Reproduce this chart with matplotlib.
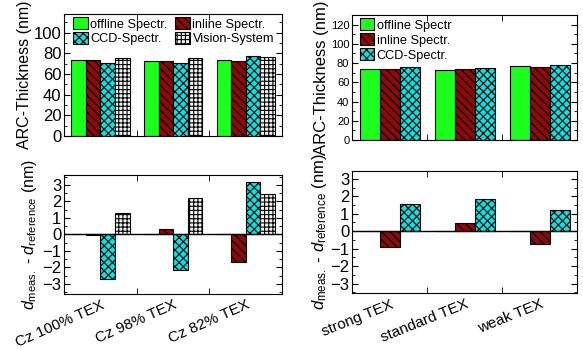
import matplotlib
matplotlib.use("Agg")
import matplotlib.pyplot as plt
import numpy as np
from matplotlib.ticker import MultipleLocator, FixedLocator

plt.rcParams["font.family"] = ["Liberation Sans", "DejaVu Sans"]
plt.rcParams["mathtext.fontset"] = "custom"
plt.rcParams["mathtext.rm"] = "Liberation Sans"
plt.rcParams["mathtext.it"] = "Liberation Sans:italic"
plt.rcParams["hatch.linewidth"] = 0.8

# left panel: Cz wafers, four measurement systems
cz_groups = ["Cz 100% TEX", "Cz 98% TEX", "Cz 82% TEX"]
cz_offline = [74.0, 72.5, 74.0]
cz_inline = [74.0, 73.0, 72.5]
cz_ccd = [71.0, 70.5, 77.0]
cz_vision = [75.0, 75.0, 76.0]
cz_dev_offline = [0.0, 0.0, 0.0]
cz_dev_inline = [-0.05, 0.35, -1.65]
cz_dev_ccd = [-2.7, -2.15, 3.15]
cz_dev_vision = [1.3, 2.2, 2.45]

# right panel: texture strength, three systems
tex_groups = ["strong TEX", "standard TEX", "weak TEX"]
tex_offline = [74.0, 72.5, 77.0]
tex_inline = [73.5, 73.5, 76.0]
tex_ccd = [76.0, 75.0, 78.0]
tex_dev_offline = [0.0, 0.0, 0.0]
tex_dev_inline = [-0.9, 0.45, -0.75]
tex_dev_ccd = [1.55, 1.85, 1.2]

styles = {
    "offline": dict(color="#1cff1c", hatch=None),
    "inline": dict(color="#8b0a0a", hatch="\\\\\\\\"),
    "ccd": dict(color="#11dede", hatch="xxxx"),
    "vision": dict(color="#f4f4f4", hatch="++++"),
}


def draw_bars(ax, series, keys, labels=None):
    n = len(series)
    w = 0.8 / n
    x = np.arange(len(series[0]))
    handles = []
    for i, (vals, key) in enumerate(zip(series, keys)):
        st = styles[key]
        b = ax.bar(x - 0.4 + w * (i + 0.5), vals, w, color=st["color"],
                   hatch=st["hatch"], edgecolor="black", linewidth=0.8,
                   label=None if labels is None else labels[i])
        handles.append(b)
    return handles


def style_axis(ax, labels, rot, fs_y, major, minor, fs_x=11):
    ax.set_xlim(-0.5, 2.5)
    ax.xaxis.set_major_locator(FixedLocator([0, 1, 2]))
    ax.xaxis.set_minor_locator(FixedLocator([0.5, 1.5]))
    ax.tick_params(axis="x", which="major", length=0, pad=3)
    ax.tick_params(axis="x", which="minor", direction="in", length=4,
                   top=True, bottom=True)
    ax.yaxis.set_major_locator(MultipleLocator(major))
    ax.yaxis.set_minor_locator(MultipleLocator(minor))
    ax.tick_params(axis="y", which="both", direction="in", left=True,
                   right=True, labelsize=fs_y, pad=2)
    ax.tick_params(axis="y", which="major", length=4)
    ax.tick_params(axis="y", which="minor", length=2)
    if labels is None:
        ax.set_xticklabels([])
    else:
        ax.set_xticklabels(labels, rotation=rot, ha="right",
                           rotation_mode="anchor", fontsize=fs_x)


fig = plt.figure(figsize=(5.83, 3.49), dpi=100)

# left top
ax1 = fig.add_axes([0.110, 0.610, 0.374, 0.350])
h = draw_bars(ax1, [cz_offline, cz_inline, cz_ccd, cz_vision],
              ["offline", "inline", "ccd", "vision"])
ax1.set_ylim(0, 118)
style_axis(ax1, None, 0, 12, 20, 10)
ax1.set_ylabel("ARC-Thickness (nm)", fontsize=11.5, labelpad=1)
ax1.legend([h[0], h[2], h[1], h[3]],
           ["offline Spectr.", "CCD-Spectr.", "inline Spectr.", "Vision-System"],
           ncol=2, loc="upper left", frameon=False, fontsize=9.2,
           handlelength=1.15, handleheight=1.1, handletextpad=0.2,
           columnspacing=0.6, labelspacing=0.1, borderpad=0.0,
           borderaxespad=0.1, bbox_to_anchor=(0.035, 0.985))

# left bottom
ax2 = fig.add_axes([0.110, 0.158, 0.374, 0.341])
draw_bars(ax2, [cz_dev_offline, cz_dev_inline, cz_dev_ccd, cz_dev_vision],
          ["offline", "inline", "ccd", "vision"])
ax2.axhline(0, color="black", linewidth=1.0)
ax2.set_ylim(-3.6, 3.6)
style_axis(ax2, cz_groups, 24, 12, 1, 0.5, fs_x=11)
ax2.set_ylabel(r"$d_{\mathrm{meas.}}$ - $d_{\mathrm{reference}}$ (nm)",
               fontsize=11.5, labelpad=2)

# right top
ax3 = fig.add_axes([0.604, 0.599, 0.386, 0.358])
draw_bars(ax3, [tex_offline, tex_inline, tex_ccd],
          ["offline", "inline", "ccd"],
          ["offline Spectr", "inline Spectr.", "CCD-Spectr."])
ax3.set_ylim(0, 130)
style_axis(ax3, None, 0, 8, 20, 10)
ax3.set_ylabel("ARC-Thickness (nm)", fontsize=12, labelpad=1)
ax3.legend(loc="upper left", frameon=False, fontsize=9.2,
           handlelength=1.05, handleheight=1.1, handletextpad=0.25,
           labelspacing=0.12, borderpad=0.0, borderaxespad=0.1,
           bbox_to_anchor=(0.03, 0.985))

# right bottom
ax4 = fig.add_axes([0.604, 0.160, 0.386, 0.350])
draw_bars(ax4, [tex_dev_offline, tex_dev_inline, tex_dev_ccd],
          ["offline", "inline", "ccd"])
ax4.axhline(0, color="black", linewidth=1.0)
ax4.set_ylim(-3.55, 3.45)
style_axis(ax4, tex_groups, 22, 12, 1, 0.5, fs_x=11)
ax4.set_ylabel(r"$d_{\mathrm{meas.}}$ - $d_{\mathrm{reference}}$ (nm)",
               fontsize=12, labelpad=1)

fig.savefig("out.png", dpi=100)
